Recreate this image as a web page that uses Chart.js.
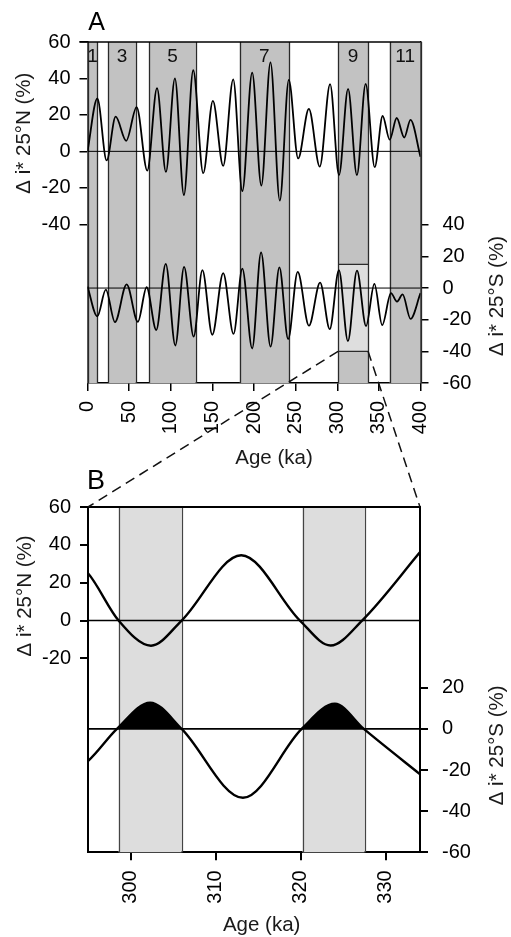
<!DOCTYPE html>
<html><head><meta charset="utf-8">
<script src="https://cdn.jsdelivr.net/npm/chart.js@4.4.1/dist/chart.umd.min.js"></script>
<style>
html,body{margin:0;padding:0;background:#fff;}
body{width:511px;height:937px;position:relative;overflow:hidden;}
#ca{position:absolute;left:0;top:0;}
#cb{position:absolute;left:0;top:470px;}
#ov{position:absolute;left:0;top:0;pointer-events:none;}
</style></head>
<body>
<canvas id="ca" width="511" height="470"></canvas>
<canvas id="cb" width="511" height="467"></canvas>
<canvas id="ov" width="511" height="937"></canvas>
<script>
const FONT = '"Liberation Sans", Arial, Helvetica, sans-serif';

// ---------- Panel A data (age in ka, insolation anomaly in %) ----------
const ageN_A = [0,11.8,23,33.8,46.5,59,71.8,83.5,94.2,105,115.8,127,139,150.6,163,175,186,197.8,208.8,219.8,231,241.8,253,265.9,279,291.4,302.1,313,323.6,334.1,345,354.5,363,371.4,380.5,388,400];
const iN_A   = [0,29,-5,19,5.8,24.3,-10.6,34.7,-11.3,40,-24,44.5,-12,27.7,-8,39.5,-21.8,43.2,-18.8,48.8,-27,39.2,-3.9,23.3,-8.4,36.9,-13,34.3,-13,37,-8.7,19.4,6.4,18.3,7.6,17.3,-3];
const ageS_A = [0,11.8,22,33,47,60.5,71,82.6,94,105.5,116,127.5,138,149.9,163,175.4,186,197.8,208.5,219.9,230.5,241,252.5,266,279.4,291,302,312.8,323.7,334.6,344.6,354,364.5,371.8,378.5,388,400];
const iS_A   = [1,-17.9,-1,-21.5,2.3,-21.3,0.5,-26.5,15.3,-36.3,13.4,-30.7,11.3,-29.5,9.5,-29,12.3,-38.2,22.5,-37,13.1,-32.2,10.2,-23.8,3.4,-26,11.3,-33.5,11,-24,2.6,-23.4,-3.2,-8.6,-4,-19.5,-3.2];

const stageBands  = [[0,12],[25,58],[74,130],[183,242],[301,337],[363,400]];
const stageLabels = ['1','3','5','7','9','11'];
const zoomAges = [301,337];
const zoomS    = [15,-40];

const ticksAgeA = [0,50,100,150,200,250,300,350,400];
const ticksN_A  = [60,40,20,0,-20,-40];
const ticksS_A  = [40,20,0,-20,-40,-60];

// ---------- Panel B data ----------
const ageN_B = [291.4,295,298.6,302.4,306,313,319.9,323.5,327.2,334.2];
const iN_B   = [36.9,25,0,-13.3,0,34.5,0,-13.2,0,37.2];
const ageS_B = [291,295,298.4,302.3,306,313.2,320.1,324,327.4,334.6];
const iS_B   = [-26,-15.6,0,12.8,0,-33.5,0,12.2,0,-24];
const bandsB = [[298.6,306],[320.2,327.5]];

const ticksAgeB = [300,310,320,330];
const ticksN_B  = [60,40,20,0,-20];
const ticksS_B  = [20,0,-20,-40,-60];

const titleN = 'Δ i* 25°N (%)';
const titleS = 'Δ i* 25°S (%)';
const titleX = 'Age (ka)';

const TICK_SIZE = 20, TITLE_SIZE = 20.5;

const pts = (xs, ys) => xs.map((x, i) => ({x, y: ys[i]}));

function yAxis(pos, min, max, ticks, width, bw, tl, pad) {
  return {
    position: pos, min, max,
    afterBuildTicks: s => { s.ticks = ticks.map(v => ({value: v})); },
    afterFit: s => { s.width = width; },
    ticks: {color: '#000', font: {family: FONT, size: TICK_SIZE}, padding: pad},
    grid: {drawOnChartArea: false, drawTicks: true, tickLength: tl, color: '#000', lineWidth: bw},
    border: {color: '#000', width: bw}
  };
}
function xAxis(min, max, ticks, height, bw, pad) {
  return {
    type: 'linear', position: 'bottom', min, max,
    afterBuildTicks: s => { s.ticks = ticks.map(v => ({value: v})); },
    afterFit: s => { s.height = height; },
    ticks: {color: '#000', font: {family: FONT, size: TICK_SIZE}, minRotation: 90, maxRotation: 90, autoSkip: false, padding: pad},
    grid: {drawOnChartArea: false, drawTicks: true, tickLength: 8, color: '#000', lineWidth: bw},
    border: {color: '#000', width: bw}
  };
}
function rotText(ctx, txt, x, y, size) {
  ctx.save();
  ctx.translate(x, y);
  ctx.rotate(-Math.PI / 2);
  ctx.font = size + 'px ' + FONT;
  ctx.fillStyle = '#1a1a1a';
  ctx.textAlign = 'center';
  ctx.textBaseline = 'middle';
  ctx.fillText(txt, 0, 0);
  ctx.restore();
}

// ---------- Panel A ----------
const panelA = {
  id: 'panelA',
  beforeDatasetsDraw(c) {
    const {ctx, chartArea: a, scales: {x, yS}} = c;
    ctx.save();
    ctx.fillStyle = '#c2c2c2';
    stageBands.forEach(([s, e]) => {
      const x0 = x.getPixelForValue(s), x1 = x.getPixelForValue(e);
      ctx.fillRect(x0, a.top, x1 - x0, a.bottom - a.top);
    });
    const zx0 = x.getPixelForValue(zoomAges[0]), zx1 = x.getPixelForValue(zoomAges[1]);
    const zy0 = yS.getPixelForValue(zoomS[0]), zy1 = yS.getPixelForValue(zoomS[1]);
    ctx.fillStyle = '#dedede';
    ctx.fillRect(zx0, zy0, zx1 - zx0, zy1 - zy0);
    ctx.strokeStyle = '#2a2a2a';
    ctx.lineWidth = 1.3;
    ctx.beginPath();
    stageBands.forEach(([s, e]) => {
      [s, e].forEach(v => {
        const px = Math.round(x.getPixelForValue(v)) + 0.5;
        ctx.moveTo(px, a.top); ctx.lineTo(px, a.bottom);
      });
    });
    ctx.moveTo(zx0, zy0); ctx.lineTo(zx1, zy0);
    ctx.moveTo(zx0, zy1); ctx.lineTo(zx1, zy1);
    ctx.stroke();
    ctx.fillStyle = '#111';
    ctx.font = '19px ' + FONT;
    ctx.textAlign = 'center';
    ctx.textBaseline = 'middle';
    stageBands.forEach(([s, e], i) => {
      ctx.fillText(stageLabels[i], (x.getPixelForValue(s) + x.getPixelForValue(e)) / 2, a.top + 15);
    });
    ctx.restore();
  },
  afterDraw(c) {
    const {ctx, chartArea: a, scales: {x, yN, yS}} = c;
    ctx.save();
    ctx.strokeStyle = '#000'; ctx.lineWidth = 1.5;
    ctx.beginPath(); ctx.moveTo(a.left - 8, a.top); ctx.lineTo(a.right, a.top); ctx.stroke();
    ctx.fillStyle = '#000';
    ctx.font = '25px ' + FONT;
    ctx.textAlign = 'center'; ctx.textBaseline = 'middle';
    ctx.fillText('A', a.left + 9, 23);
    ctx.font = TITLE_SIZE + 'px ' + FONT;
    ctx.fillStyle = '#1a1a1a';
    ctx.fillText(titleX, x.getPixelForValue(224), 458);
    ctx.restore();
    rotText(ctx, titleN, 24, yN.getPixelForValue(10), TITLE_SIZE);
    rotText(ctx, titleS, 497, yS.getPixelForValue(-5), TITLE_SIZE);
  }
};

const chartA = new Chart(document.getElementById('ca'), {
  type: 'line',
  data: {datasets: [
    {data: pts([0, 400], [0, 0]), yAxisID: 'yN', borderColor: '#000', borderWidth: 1, pointRadius: 0},
    {data: pts([0, 400], [0, 0]), yAxisID: 'yS', borderColor: '#000', borderWidth: 1, pointRadius: 0},
    {data: pts(ageN_A, iN_A), yAxisID: 'yN', borderColor: '#000', borderWidth: 1.8, pointRadius: 0, cubicInterpolationMode: 'monotone'},
    {data: pts(ageS_A, iS_A), yAxisID: 'yS', borderColor: '#000', borderWidth: 1.8, pointRadius: 0, cubicInterpolationMode: 'monotone'}
  ]},
  options: {
    responsive: false, animation: false, devicePixelRatio: 1,
    layout: {padding: {top: 42, left: 0, right: 0, bottom: 0}},
    plugins: {legend: {display: false}, tooltip: {enabled: false}},
    scales: {
      x: xAxis(0, 400, ticksAgeA, 87, 1.5, 10),
      yN: yAxis('left', -127.1, 60, ticksN_A, 87.5, 1.5, 8, 9),
      yS: yAxis('right', -60, 155.5, ticksS_A, 90.5, 1.5, 8, 14)
    }
  },
  plugins: [panelA]
});

// ---------- Panel B ----------
const panelB = {
  id: 'panelB',
  beforeDatasetsDraw(c) {
    const {ctx, chartArea: a, scales: {x}} = c;
    ctx.save();
    ctx.fillStyle = '#dddddd';
    bandsB.forEach(([s, e]) => {
      const x0 = x.getPixelForValue(s), x1 = x.getPixelForValue(e);
      ctx.fillRect(x0, a.top, x1 - x0, a.bottom - a.top);
    });
    ctx.strokeStyle = '#444'; ctx.lineWidth = 1.2;
    ctx.beginPath();
    bandsB.forEach(([s, e]) => {
      [s, e].forEach(v => {
        const px = Math.round(x.getPixelForValue(v)) + 0.5;
        ctx.moveTo(px, a.top); ctx.lineTo(px, a.bottom);
      });
    });
    ctx.stroke();
    ctx.restore();
  },
  afterDraw(c) {
    const {ctx, chartArea: a, scales: {x, yN, yS}} = c;
    ctx.save();
    ctx.strokeStyle = '#000'; ctx.lineWidth = 2;
    ctx.beginPath(); ctx.moveTo(a.left - 8, a.top); ctx.lineTo(a.right + 1, a.top); ctx.stroke();
    ctx.fillStyle = '#000';
    ctx.font = '27px ' + FONT;
    ctx.textAlign = 'center'; ctx.textBaseline = 'middle';
    ctx.fillText('B', a.left + 8, 12);
    ctx.font = TITLE_SIZE + 'px ' + FONT;
    ctx.fillStyle = '#1a1a1a';
    ctx.fillText(titleX, x.getPixelForValue(315.4), 455);
    ctx.restore();
    rotText(ctx, titleN, 25, yN.getPixelForValue(13), TITLE_SIZE);
    rotText(ctx, titleS, 497, yS.getPixelForValue(-8), TITLE_SIZE);
  }
};

const chartB = new Chart(document.getElementById('cb'), {
  type: 'line',
  data: {datasets: [
    {data: pts([295, 334], [0, 0]), yAxisID: 'yN', borderColor: '#000', borderWidth: 1.6, pointRadius: 0},
    {data: pts([295, 334], [0, 0]), yAxisID: 'yS', borderColor: '#000', borderWidth: 1.6, pointRadius: 0},
    {data: pts(ageN_B, iN_B), yAxisID: 'yN', borderColor: '#000', borderWidth: 2.4, pointRadius: 0, cubicInterpolationMode: 'monotone'},
    {data: pts(ageS_B, iS_B), yAxisID: 'yS', borderColor: '#000', borderWidth: 2.4, pointRadius: 0, cubicInterpolationMode: 'monotone',
     fill: {target: {value: 0}, above: '#000', below: 'rgba(0,0,0,0)'}}
  ]},
  options: {
    responsive: false, animation: false, devicePixelRatio: 1,
    layout: {padding: {top: 37, left: 0, right: 0, bottom: 0}},
    plugins: {legend: {display: false}, tooltip: {enabled: false}, filler: {propagate: false}},
    scales: {
      x: xAxis(295, 334, ticksAgeB, 84.7, 2, 10),
      yN: yAxis('left', -122.5, 60, ticksN_B, 88, 2, 8, 9),
      yS: yAxis('right', -60, 107.9, ticksS_B, 91, 2, 8, 14)
    }
  },
  plugins: [panelB]
});

// ---------- Connector dashed lines (overlay) ----------
(function drawConnectors() {
  const ov = document.getElementById('ov').getContext('2d');
  const xa = chartA.scales.x, ysa = chartA.scales.yS, bA = chartB.chartArea;
  const offB = 470;
  const yz = ysa.getPixelForValue(zoomS[1]);
  ov.save();
  ov.strokeStyle = '#111';
  ov.lineWidth = 1.5;
  ov.setLineDash([10, 6]);
  ov.beginPath();
  ov.moveTo(xa.getPixelForValue(zoomAges[0]), yz);
  ov.lineTo(bA.left, bA.top + offB);
  ov.moveTo(xa.getPixelForValue(zoomAges[1]), yz);
  ov.lineTo(bA.right, bA.top + offB);
  ov.stroke();
  ov.restore();
})();
</script>
</body></html>
